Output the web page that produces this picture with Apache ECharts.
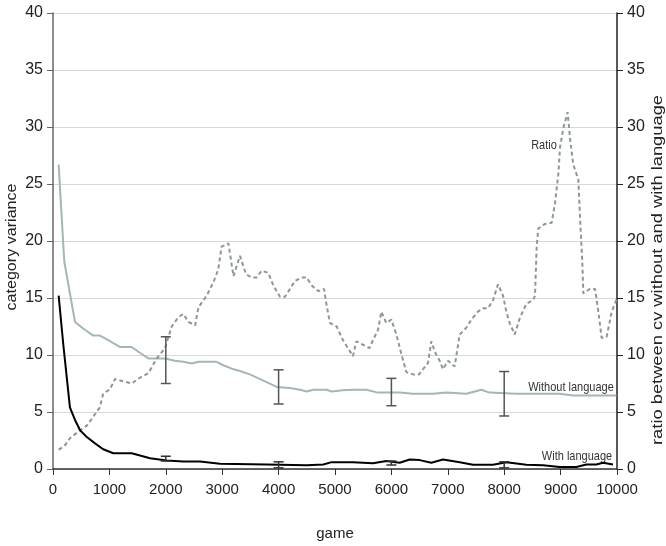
<!DOCTYPE html>
<html>
<head>
<meta charset="utf-8">
<script src="https://cdn.jsdelivr.net/npm/echarts@6/dist/echarts.min.js"></script>
<style>
html,body{margin:0;padding:0;background:#fff;}
#chart{width:666px;height:546px;}
</style>
</head>
<body>
<div id="chart"></div>
<script>
// ---- data ----
const yTicks = [0, 5, 10, 15, 20, 25, 30, 35, 40];
const xTicks = [0, 1000, 2000, 3000, 4000, 5000, 6000, 7000, 8000, 9000, 10000];

const ratioGame = [
  100,200,300,480,600,715,830,890,1010,1100,
  1240,1395,1540,1690,1840,1985,2105,2220,2310,2400,
  2520,2580,2725,2845,2930,2990,3110,3200,3315,3420,
  3523,3611,3700,3817,3906,4025,4113,4202,4291,4409,
  4498,4587,4705,4805,4853,4911,5030,5142,5230,5319,
  5378,5496,5614,5673,5762,5822,5910,5999,6088,6176,
  6265,6383,6489,6560,6649,6708,6767,6856,6915,7004,
  7122,7211,7329,7417,7535,7624,7713,7801,7890,7979,
  8038,8097,8186,8275,8392,8511,8546,8576,8605,8723,
  8842,8901,8960,8990,9048,9125,9167,9225,9314,9344,
  9385,9403,9521,9610,9669,9728,9817,9906,9994
];
const ratioValue = [
  1.7,2.0,2.7,3.4,3.8,4.6,5.4,6.6,7.0,7.9,
  7.7,7.5,8.0,8.4,9.7,10.6,12.5,13.3,13.6,12.9,
  12.6,14.2,15.2,16.4,17.5,19.5,19.8,16.9,18.7,17.1,
  16.8,16.8,17.4,17.2,16.1,15.1,15.1,15.8,16.5,16.8,
  16.8,16.1,15.6,15.8,14.3,12.8,12.5,11.3,10.6,9.9,
  11.2,10.9,10.6,11.3,12.2,13.8,12.8,13.1,11.8,10.1,
  8.5,8.3,8.3,8.75,9.3,11.2,10.3,9.5,8.75,9.5,
  9.0,11.8,12.4,13.1,13.8,14.1,14.1,14.8,16.2,15.2,
  13.8,12.8,11.8,13.2,14.5,14.8,15.2,19.5,21.1,21.5,
  21.6,23.3,25.9,28.2,29.9,31.3,29.0,26.7,25.4,22.1,
  18.1,15.4,15.8,15.8,13.8,11.5,11.6,13.8,14.9
];

const withoutGame = [
  100,200,390,540,715,830,980,1190,1395,1540,
  1690,1840,1990,2160,2310,2460,2580,2725,2900,3020,
  3170,3316,3490,3730,3966,4200,4380,4500,4616,4850,
  4940,5140,5320,5556,5760,6150,6380,6740,6970,7330,
  7595,7740,8215,8985,9220,9456,9990
];
const withoutValue = [
  26.7,18.2,12.9,12.3,11.7,11.7,11.3,10.7,10.7,10.2,
  9.7,9.7,9.7,9.5,9.4,9.25,9.4,9.4,9.4,9.1,
  8.8,8.6,8.3,7.75,7.2,7.1,6.95,6.8,6.95,6.95,
  6.8,6.9,6.95,6.95,6.7,6.7,6.6,6.6,6.7,6.6,
  6.95,6.7,6.6,6.6,6.45,6.45,6.45
];

const withGame = [
  100,183,300,390,480,600,745,890,1070,1395,
  1543,1720,2016,2310,2606,2960,3789,4498,4793,4941,
  5319,5674,5910,6147,6324,6502,6708,6915,7211,7447,
  7801,8038,8393,8688,8984,9280,9456,9633,9752,9929
];
const withValue = [
  15.2,10.9,5.4,4.3,3.4,2.8,2.25,1.73,1.38,1.38,
  1.18,0.95,0.75,0.66,0.66,0.46,0.4,0.32,0.4,0.6,
  0.6,0.5,0.7,0.55,0.83,0.78,0.55,0.83,0.6,0.37,
  0.37,0.6,0.37,0.32,0.17,0.17,0.4,0.4,0.55,0.4
];

const errGame = [2000, 4000, 6000, 8000];
const withoutLow = [7.5, 5.7, 5.55, 4.65];
const withoutHigh = [11.6, 8.7, 7.95, 8.55];
const withLow = [0.7, 0.1, 0.35, 0.1];
const withHigh = [1.12, 0.63, 0.7, 0.63];

// ---- build ----
const pairs = (xs, ys) => xs.map((x, i) => [x, ys[i]]);
const triples = (xs, lo, hi) => xs.map((x, i) => [x, lo[i], hi[i]]);

function errRender(color) {
  return function (params, api) {
    const top = api.coord([api.value(0), api.value(2)]);
    const bot = api.coord([api.value(0), api.value(1)]);
    const w = 5;
    const st = { stroke: color, lineWidth: 1.5 };
    return {
      type: 'group',
      children: [
        { type: 'line', shape: { x1: top[0], y1: top[1], x2: bot[0], y2: bot[1] }, style: st },
        { type: 'line', shape: { x1: top[0] - w, y1: top[1], x2: top[0] + w, y2: top[1] }, style: st },
        { type: 'line', shape: { x1: bot[0] - w, y1: bot[1], x2: bot[0] + w, y2: bot[1] }, style: st }
      ]
    };
  };
}

const FONT = 'Liberation Sans, Arial, sans-serif';
const chart = echarts.init(document.getElementById('chart'), null, { renderer: 'canvas' });

const option = {
  animation: false,
  backgroundColor: '#fff',
  grid: { left: 53, right: 49, top: 13, bottom: 70, containLabel: false },
  xAxis: {
    type: 'value', min: xTicks[0], max: xTicks[xTicks.length - 1], interval: 1000,
    name: 'game', nameLocation: 'middle', nameGap: 57,
    nameTextStyle: { fontFamily: FONT, fontSize: 15, color: '#222' },
    axisLine: { show: true, onZero: false, lineStyle: { color: '#333', width: 1.5 } },
    axisTick: { show: true, inside: false, length: 6, lineStyle: { color: '#333' } },
    axisLabel: { fontFamily: FONT, fontSize: 15, color: '#222', margin: 13,
                 formatter: v => String(v) },
    splitLine: { show: false }
  },
  yAxis: [
    {
      type: 'value', min: yTicks[0], max: yTicks[yTicks.length - 1], interval: 5, position: 'left',
      axisLine: { show: true, lineStyle: { color: '#666', width: 1.5 } },
      axisTick: { show: true, length: 6, lineStyle: { color: '#666' } },
      axisLabel: { fontFamily: FONT, fontSize: 16, color: '#222', margin: 10 },
      splitLine: { show: true, lineStyle: { color: '#d8d8d8', width: 1 } }
    },
    {
      type: 'value', min: yTicks[0], max: yTicks[yTicks.length - 1], interval: 5, position: 'right',
      axisLine: { show: true, lineStyle: { color: '#222', width: 1.5 } },
      axisTick: { show: true, length: 6, lineStyle: { color: '#222' } },
      axisLabel: { fontFamily: FONT, fontSize: 16, color: '#222', margin: 10 },
      splitLine: { show: false }
    }
  ],
  graphic: [
    { type: 'text', x: 12, y: 247, rotation: Math.PI / 2, scaleX: 1.15,
      style: { text: 'category variance', font: '14px ' + FONT, fill: '#222', align: 'center', verticalAlign: 'middle' } },
    { type: 'text', x: 658, y: 270, rotation: Math.PI / 2, scaleX: 1.22,
      style: { text: 'ratio between cv without and with language', font: '15px ' + FONT, fill: '#222', align: 'center', verticalAlign: 'middle' } },
    { type: 'text', x: 544, y: 145, scaleY: 1.2,
      style: { text: 'Ratio', font: '11px ' + FONT, fill: '#333', align: 'center', verticalAlign: 'middle' } },
    { type: 'text', x: 571, y: 387, scaleY: 1.2,
      style: { text: 'Without language', font: '11px ' + FONT, fill: '#333', align: 'center', verticalAlign: 'middle' } },
    { type: 'text', x: 577, y: 456, scaleY: 1.2,
      style: { text: 'With language', font: '11px ' + FONT, fill: '#333', align: 'center', verticalAlign: 'middle' } }
  ],
  series: [
    {
      name: 'Without language', type: 'line', yAxisIndex: 0, showSymbol: false, symbol: 'none',
      data: pairs(withoutGame, withoutValue),
      lineStyle: { color: '#a3b7b3', width: 2 }, z: 2
    },
    {
      name: 'Ratio', type: 'line', yAxisIndex: 1, showSymbol: false, symbol: 'none',
      data: pairs(ratioGame, ratioValue),
      lineStyle: { color: '#8a9896', width: 2, type: [4, 3] }, z: 3
    },
    {
      name: 'With language', type: 'line', yAxisIndex: 0, showSymbol: false, symbol: 'none',
      data: pairs(withGame, withValue),
      lineStyle: { color: '#000', width: 2 }, z: 4
    },
    {
      name: 'Without language error', type: 'custom', yAxisIndex: 0,
      renderItem: errRender('#555'),
      data: triples(errGame, withoutLow, withoutHigh), z: 5
    },
    {
      name: 'With language error', type: 'custom', yAxisIndex: 0,
      renderItem: errRender('#333'),
      data: triples(errGame, withLow, withHigh), z: 5
    }
  ]
};
chart.setOption(option);
</script>
</body>
</html>
